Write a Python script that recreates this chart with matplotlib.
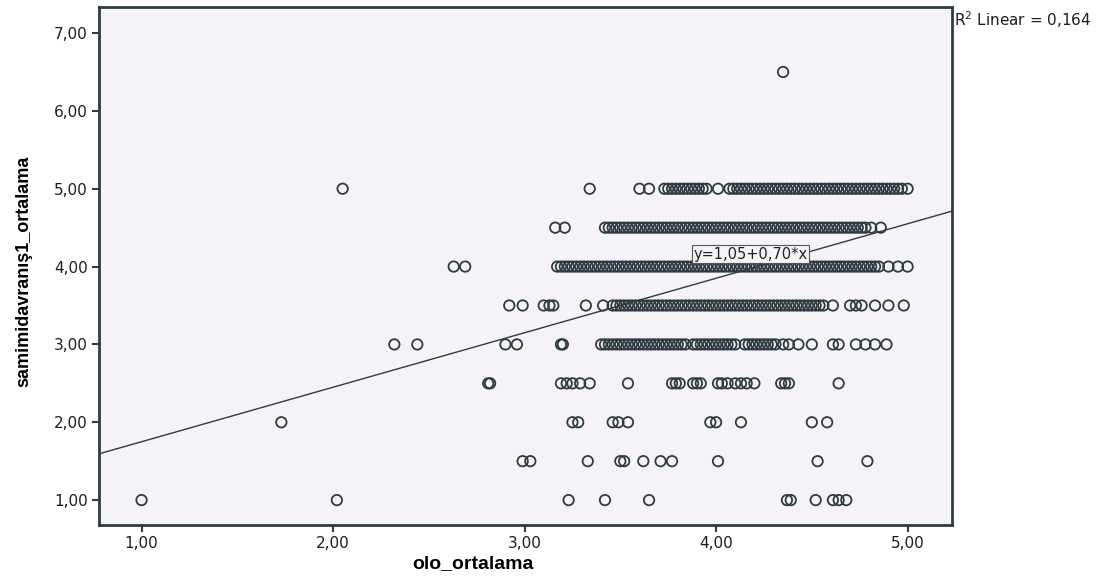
import numpy as np
import matplotlib
matplotlib.use("Agg")
import matplotlib.pyplot as plt

# olo_ortalama values per samimidavranis1_ortalama level
x_at_100 = [1.00, 2.02, 3.23, 3.42, 3.65, 4.37, 4.39, 4.52, 4.61, 4.64, 4.68]
x_at_150 = [2.99, 3.03, 3.33, 3.50, 3.52, 3.62, 3.71, 3.77, 4.01, 4.53, 4.79]
x_at_200 = [1.73, 3.25, 3.28, 3.46, 3.49, 3.54, 3.97, 4.00, 4.13, 4.50, 4.58]
x_at_250 = [2.81, 2.82, 3.19, 3.22, 3.25, 3.29, 3.34, 3.54, 3.77, 3.79, 3.81,
            3.88, 3.90, 3.92, 4.01, 4.03, 4.06, 4.10, 4.13, 4.16, 4.20, 4.34,
            4.36, 4.38, 4.64]
x_at_300 = [2.32, 2.44, 2.90, 2.96, 3.19, 3.20,
            3.40, 3.42, 3.44, 3.46, 3.48, 3.50, 3.52, 3.54, 3.56, 3.58, 3.60,
            3.62, 3.64, 3.66, 3.68, 3.70, 3.72, 3.74, 3.76, 3.78, 3.80, 3.82,
            3.84, 3.88, 3.90, 3.92, 3.94, 3.96, 3.98, 4.00, 4.02, 4.04, 4.06,
            4.08, 4.10, 4.15, 4.17, 4.19, 4.21, 4.23, 4.25, 4.27, 4.29, 4.31,
            4.35, 4.38, 4.43, 4.50, 4.61, 4.64, 4.73, 4.78, 4.83, 4.89]
x_at_350 = [2.92, 2.99, 3.10, 3.13, 3.15, 3.32, 3.41,
            3.46, 3.48, 3.50, 3.52, 3.54, 3.56, 3.58, 3.60, 3.62, 3.64, 3.66,
            3.68, 3.70, 3.72, 3.74, 3.76, 3.78, 3.80, 3.82, 3.84, 3.86, 3.88,
            3.90, 3.92, 3.94, 3.96, 3.98, 4.00, 4.02, 4.04, 4.06, 4.08, 4.10,
            4.12, 4.14, 4.16, 4.18, 4.20, 4.22, 4.24, 4.26, 4.28, 4.30, 4.32,
            4.34, 4.36, 4.38, 4.40, 4.42, 4.44, 4.46, 4.48, 4.50, 4.52, 4.54,
            4.56, 4.61, 4.70, 4.73, 4.76, 4.83, 4.90, 4.98]
x_at_400 = [2.63, 2.69,
            3.17, 3.19, 3.21, 3.23, 3.25, 3.27, 3.29, 3.31, 3.33, 3.35, 3.37,
            3.39, 3.41, 3.43, 3.45, 3.47, 3.49, 3.51, 3.53, 3.55, 3.57, 3.59,
            3.61, 3.63, 3.65, 3.67, 3.69, 3.71, 3.73, 3.75, 3.77, 3.79, 3.81,
            3.83, 3.85, 3.87, 3.89, 3.91, 3.93, 3.95, 3.97, 3.99, 4.01, 4.03,
            4.05, 4.07, 4.09, 4.11, 4.13, 4.15, 4.17, 4.19, 4.21, 4.23, 4.25,
            4.27, 4.29, 4.31, 4.33, 4.35, 4.37, 4.39, 4.41, 4.43, 4.45, 4.47,
            4.49, 4.51, 4.53, 4.55, 4.57, 4.59, 4.61, 4.63, 4.65, 4.67, 4.69,
            4.71, 4.73, 4.75, 4.77, 4.79, 4.81, 4.83, 4.85, 4.90, 4.95, 5.00]
x_at_450 = [3.16, 3.21,
            3.42, 3.44, 3.46, 3.48, 3.50, 3.52, 3.54, 3.56, 3.58, 3.60, 3.62,
            3.64, 3.66, 3.68, 3.70, 3.72, 3.74, 3.76, 3.78, 3.80, 3.82, 3.84,
            3.86, 3.88, 3.90, 3.92, 3.94, 3.96, 3.98, 4.00, 4.02, 4.04, 4.06,
            4.08, 4.10, 4.12, 4.14, 4.16, 4.18, 4.20, 4.22, 4.24, 4.26, 4.28,
            4.30, 4.32, 4.34, 4.36, 4.38, 4.40, 4.42, 4.44, 4.46, 4.48, 4.50,
            4.52, 4.54, 4.56, 4.58, 4.60, 4.62, 4.64, 4.66, 4.68, 4.70, 4.72,
            4.74, 4.76, 4.78, 4.81, 4.86]
x_at_500 = [2.05, 3.34, 3.60, 3.65,
            3.73, 3.75, 3.77, 3.79, 3.81, 3.83, 3.85, 3.87, 3.89, 3.91, 3.93,
            3.95, 4.01, 4.07, 4.09, 4.11, 4.13, 4.15, 4.17, 4.19, 4.21, 4.23,
            4.25, 4.27, 4.29, 4.31, 4.33, 4.35, 4.37, 4.39, 4.41, 4.43, 4.45,
            4.47, 4.49, 4.51, 4.53, 4.55, 4.57, 4.59, 4.61, 4.63, 4.65, 4.67,
            4.69, 4.71, 4.73, 4.75, 4.77, 4.79, 4.81, 4.83, 4.85, 4.87, 4.89,
            4.91, 4.93, 4.95, 4.97, 5.00]
x_at_650 = [4.35]

rows = {1.0: x_at_100, 1.5: x_at_150, 2.0: x_at_200, 2.5: x_at_250,
        3.0: x_at_300, 3.5: x_at_350, 4.0: x_at_400, 4.5: x_at_450,
        5.0: x_at_500, 6.5: x_at_650}

intercept = 1.05
slope = 0.70
r2 = 0.164
yticks = [1, 2, 3, 4, 5, 6, 7]
xticks = [1, 2, 3, 4, 5]

dark = "#2e3c42"

fig = plt.figure(figsize=(11.14, 5.88), dpi=100)
ax = fig.add_axes([0.0889, 0.107, 0.7657, 0.881])
ax.set_facecolor("#f5f3f7")

for yv, xs in rows.items():
    ax.scatter(xs, [yv] * len(xs), s=56, facecolors="none",
               edgecolors=dark, linewidths=1.3, zorder=3)

xlim = (0.778, 5.232)
ylim = (0.679, 7.334)
lx = np.array(xlim)
ax.plot(lx, intercept + slope * lx, color=dark, lw=1.0, zorder=2)
ax.set_xlim(xlim)
ax.set_ylim(ylim)

ax.text(4.18, 4.16, "y=1,05+0,70*x", fontsize=10.5, ha="center", va="center",
        family="DejaVu Sans", color="#222222", zorder=4,
        bbox=dict(boxstyle="square,pad=0.1", fc="#f5f3f7", ec="#555555", lw=0.8))

ax.set_xticks(xticks)
ax.set_yticks(yticks)
ax.set_xticklabels([f"{v:.2f}".replace(".", ",") for v in xticks],
                   family="DejaVu Sans", fontsize=11, color="#1e1e1e")
ax.set_yticklabels([f"{v:.2f}".replace(".", ",") for v in yticks],
                   family="DejaVu Sans", fontsize=11, color="#1e1e1e")
ax.tick_params(direction="out", length=5, width=1.5, color=dark, pad=3)
for sp in ax.spines.values():
    sp.set_color(dark)
    sp.set_linewidth(2)

lab_font = ["Liberation Sans Narrow", "Liberation Sans", "DejaVu Sans"]
ax.set_xlabel("olo_ortalama", family=lab_font, fontweight="bold", fontsize=14)
ax.xaxis.set_label_coords(0.438, -0.058)
ax.set_ylabel("samimidavranış1_ortalama", family=lab_font, fontweight="bold",
              fontsize=13)
ax.yaxis.set_label_coords(-0.078, 0.49)

fig.text(0.856, 0.985, f"R$^2$ Linear = {r2:.3f}".replace(".", ","),
         family="DejaVu Sans", fontsize=11, ha="left", va="top",
         color="#1e1e1e")

fig.savefig("out.png", dpi=100, facecolor="white")
